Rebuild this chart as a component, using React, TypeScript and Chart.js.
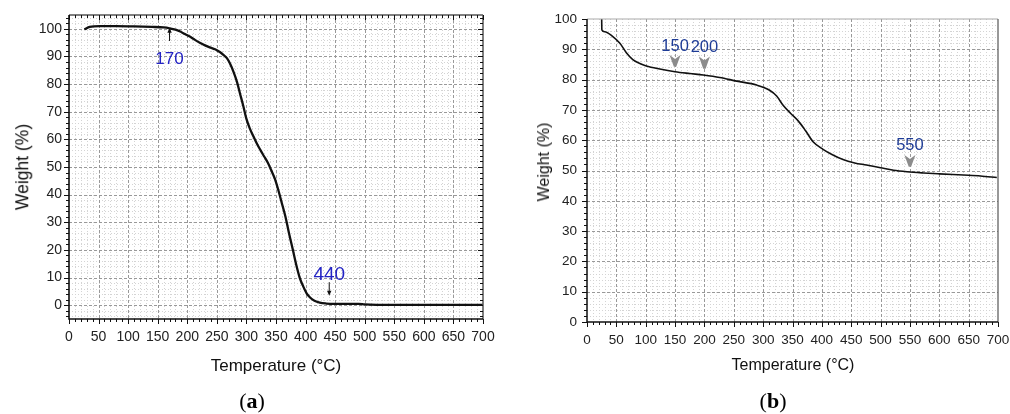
import React, { useEffect, useRef } from "react";
import { Chart, registerables } from "chart.js";

Chart.register(...registerables);

// ---------------- data: panel (a) ----------------
const tempsA = [26, 35, 52, 80, 110, 140, 160, 170, 180, 188, 196, 205, 213, 222, 230, 238, 247, 255, 261, 267, 272, 278, 284, 289, 295, 300, 306, 312, 318, 324, 330, 336, 342, 348, 354, 360, 366, 372, 378, 384, 390, 396, 402, 408, 415, 424, 435, 450, 470, 490, 500, 550, 600, 650, 700];
const weightsA = [99.8, 100.7, 101, 101, 100.9, 100.7, 100.5, 100.2, 99.7, 99.0, 98.1, 97.1, 96.0, 94.9, 94.0, 93.3, 92.6, 91.6, 90.6, 89.4, 87.5, 84.5, 80.8, 76.7, 71.8, 67.4, 63.8, 61.0, 58.3, 56.0, 53.8, 51.6, 48.8, 45.8, 41.6, 36.8, 32.0, 26.0, 20.5, 14.8, 10.0, 6.8, 4.2, 2.7, 1.6, 0.9, 0.6, 0.5, 0.5, 0.5, 0.3, 0.1, 0.1, 0.1, 0.1];
const markersA = [170, 440];
const markerLabelsA = ["170", "440"];

// ---------------- data: panel (b) ----------------
const tempsB = [25, 25.3, 30, 44, 56, 67, 78, 90, 101, 124, 150, 175, 198, 226, 255, 289, 311, 323, 334, 347, 360, 372, 385, 402, 418, 436, 456, 476, 500, 522, 545, 573, 600, 641, 670, 698];
const weightsB = [100, 96.4, 95.8, 94.2, 92, 88.9, 86.6, 85.3, 84.5, 83.5, 82.6, 82.0, 81.5, 80.7, 79.5, 78.2, 76.5, 74.6, 71.5, 68.8, 66.3, 63.2, 59.5, 57.0, 55.2, 53.6, 52.5, 51.8, 50.9, 50.1, 49.6, 49.2, 48.9, 48.5, 48.2, 47.7];
const markersB = [150, 200, 550];
const markerLabelsB = ["150", "200", "550"];

// ---------------- tick labels ----------------
const xTickLabels = ["0", "50", "100", "150", "200", "250", "300", "350", "400", "450", "500", "550", "600", "650", "700"];
const yTickLabelsA = ["0", "10", "20", "30", "40", "50", "60", "70", "80", "90", "100"];
const yTickLabelsB = ["0", "10", "20", "30", "40", "50", "60", "70", "80", "90", "100"];

const SANS = "'Liberation Sans', Arial, sans-serif";

type FrameCfg = {
  xMinor: number; xMajor: number; yMinor: number; yMajor: number;
  minorColor: string; majorColor: string; minorDash: number[]; majorDash: number[];
  axisColor: string; axisWidth: number;
  topColor: string; rightColor: string; frameWidth: number; innerTicks: boolean;
  majorLen: number; minorLen: number;
};

const stepValues = (min: number, max: number, step: number) => {
  const out: number[] = [];
  const start = Math.ceil(min / step - 1e-9) * step;
  for (let v = start; v <= max + 1e-9; v += step) out.push(Math.round(v * 1000) / 1000);
  return out;
};
const isMult = (v: number, step: number) => Math.abs(v / step - Math.round(v / step)) < 1e-6;

function framePlugin(id: string, cfg: FrameCfg) {
  return {
    id,
    beforeDatasetsDraw(chart: any) {
      const { ctx, chartArea: a } = chart;
      const x = chart.scales.x, y = chart.scales.y;
      ctx.save();
      ctx.lineWidth = 1;
      const drawSet = (major: boolean) => {
        ctx.strokeStyle = major ? cfg.majorColor : cfg.minorColor;
        ctx.setLineDash(major ? cfg.majorDash : cfg.minorDash);
        ctx.beginPath();
        for (const v of stepValues(x.min, x.max, cfg.xMinor)) {
          if (isMult(v, cfg.xMajor) !== major) continue;
          const p = Math.round(x.getPixelForValue(v)) + 0.5;
          if (p <= a.left + 1 || p >= a.right - 1) continue;
          ctx.moveTo(p, a.top); ctx.lineTo(p, a.bottom);
        }
        for (const v of stepValues(y.min, y.max, cfg.yMinor)) {
          if (isMult(v, cfg.yMajor) !== major) continue;
          const p = Math.round(y.getPixelForValue(v)) + 0.5;
          if (p <= a.top + 1 || p >= a.bottom - 1) continue;
          ctx.moveTo(a.left, p); ctx.lineTo(a.right, p);
        }
        ctx.stroke();
      };
      drawSet(false);
      drawSet(true);
      ctx.restore();
    },
    afterDatasetsDraw(chart: any) {
      const { ctx, chartArea: a } = chart;
      const x = chart.scales.x, y = chart.scales.y;
      ctx.save();
      ctx.setLineDash([]);
      ctx.lineWidth = cfg.frameWidth;
      ctx.strokeStyle = cfg.topColor;
      ctx.beginPath(); ctx.moveTo(a.left, a.top); ctx.lineTo(a.right, a.top); ctx.stroke();
      ctx.strokeStyle = cfg.rightColor;
      ctx.beginPath(); ctx.moveTo(a.right, a.top); ctx.lineTo(a.right, a.bottom); ctx.stroke();
      ctx.lineWidth = 1;
      ctx.strokeStyle = cfg.axisColor;
      ctx.beginPath();
      for (const v of stepValues(x.min, x.max, cfg.xMinor)) {
        const len = isMult(v, cfg.xMajor) ? cfg.majorLen : cfg.minorLen;
        const p = Math.round(x.getPixelForValue(v)) + 0.5;
        ctx.moveTo(p, a.bottom); ctx.lineTo(p, a.bottom + len);
        if (cfg.innerTicks) { ctx.moveTo(p, a.top); ctx.lineTo(p, a.top + len); }
      }
      for (const v of stepValues(y.min, y.max, cfg.yMinor)) {
        const len = isMult(v, cfg.yMajor) ? cfg.majorLen : cfg.minorLen;
        const p = Math.round(y.getPixelForValue(v)) + 0.5;
        ctx.moveTo(a.left, p); ctx.lineTo(a.left - len, p);
        if (cfg.innerTicks) { ctx.moveTo(a.right, p); ctx.lineTo(a.right - len, p); }
      }
      ctx.stroke();
      ctx.lineWidth = cfg.axisWidth;
      ctx.strokeStyle = cfg.axisColor;
      ctx.beginPath();
      ctx.moveTo(a.left, a.top); ctx.lineTo(a.left, a.bottom); ctx.lineTo(a.right, a.bottom);
      ctx.stroke();
      ctx.restore();
    },
  };
}

type Marker = { x: number; text: string; labelY: number; from: number; to: number; size: number };

function arrowPlugin(id: string, markers: Marker[], color: string) {
  return {
    id,
    afterDraw(chart: any) {
      const { ctx } = chart;
      const x = chart.scales.x, y = chart.scales.y;
      ctx.save();
      for (const m of markers) {
        const px = x.getPixelForValue(m.x);
        ctx.font = `${m.size}px ${SANS}`;
        ctx.fillStyle = color;
        ctx.textAlign = "center";
        ctx.textBaseline = "middle";
        ctx.fillText(m.text, px, y.getPixelForValue(m.labelY));
        const p1 = y.getPixelForValue(m.from);
        const p2 = y.getPixelForValue(m.to);
        const dir = p2 < p1 ? -1 : 1;
        ctx.strokeStyle = "#111";
        ctx.lineWidth = 1;
        ctx.beginPath();
        ctx.moveTo(px, p1); ctx.lineTo(px, p2 - dir * 4);
        ctx.stroke();
        ctx.fillStyle = "#111";
        ctx.beginPath();
        ctx.moveTo(px, p2); ctx.lineTo(px - 2.2, p2 - dir * 5); ctx.lineTo(px + 2.2, p2 - dir * 5);
        ctx.closePath(); ctx.fill();
      }
      ctx.restore();
    },
  };
}

function chevronPlugin(id: string, markers: Marker[], color: string) {
  return {
    id,
    afterDraw(chart: any) {
      const { ctx } = chart;
      const x = chart.scales.x, y = chart.scales.y;
      ctx.save();
      for (const m of markers) {
        const px = x.getPixelForValue(m.x);
        ctx.font = `${m.size}px ${SANS}`;
        ctx.fillStyle = color;
        ctx.textAlign = "center";
        ctx.textBaseline = "middle";
        ctx.fillText(m.text, px, y.getPixelForValue(m.labelY));
        const top = y.getPixelForValue(m.from);
        const bot = y.getPixelForValue(m.to);
        ctx.fillStyle = "#8c8c8c";
        ctx.beginPath();
        ctx.moveTo(px - 5.5, top);
        ctx.lineTo(px, top + 4);
        ctx.lineTo(px + 5.5, top);
        ctx.lineTo(px + 1.2, bot);
        ctx.lineTo(px - 1.2, bot);
        ctx.closePath();
        ctx.fill();
      }
      ctx.restore();
    },
  };
}

type PanelCfg = {
  temps: number[]; weights: number[]; yMin: number; yMax: number;
  yLabels: string[]; lineWidth: number; tickFont: number;
  yWidth: number; xHeight: number; padTop: number; padRight: number;
  xPad: number; yPad: number;
};

function buildConfig(p: PanelCfg, plugins: any[]) {
  const xVals = xTickLabels.map(Number);
  const yVals = p.yLabels.map(Number);
  return {
    type: "line",
    data: {
      datasets: [
        {
          data: p.temps.map((t, i) => ({ x: t, y: p.weights[i] })),
          borderColor: "#111",
          borderWidth: p.lineWidth,
          pointRadius: 0,
          fill: false,
          cubicInterpolationMode: "monotone",
        },
      ],
    },
    options: {
      animation: false,
      responsive: false,
      maintainAspectRatio: false,
      events: [],
      layout: { padding: { top: p.padTop, right: p.padRight, left: 0, bottom: 0 } },
      plugins: { legend: { display: false }, tooltip: { enabled: false }, title: { display: false } },
      scales: {
        x: {
          type: "linear",
          min: 0,
          max: 700,
          grid: { display: false, drawTicks: false },
          border: { display: false },
          afterFit: (s: any) => { s.height = p.xHeight; s.paddingLeft = 0; s.paddingRight = 0; },
          afterBuildTicks: (s: any) => { s.ticks = xVals.map((v) => ({ value: v })); },
          ticks: {
            autoSkip: false,
            maxRotation: 0,
            padding: p.xPad,
            color: "#222",
            font: { family: SANS, size: p.tickFont },
            callback: (v: number) => xTickLabels[xVals.indexOf(v)] ?? "",
          },
        },
        y: {
          type: "linear",
          min: p.yMin,
          max: p.yMax,
          grid: { display: false, drawTicks: false },
          border: { display: false },
          afterFit: (s: any) => { s.width = p.yWidth; s.paddingTop = 0; s.paddingBottom = 0; },
          afterBuildTicks: (s: any) => { s.ticks = yVals.map((v) => ({ value: v })); },
          ticks: {
            autoSkip: false,
            padding: p.yPad,
            color: "#222",
            font: { family: SANS, size: p.tickFont },
            callback: (v: number) => p.yLabels[yVals.indexOf(v)] ?? "",
          },
        },
      },
    },
    plugins,
  };
}

const textStyle = (left: number, top: number, size: number, rotate = false): React.CSSProperties => ({
  position: "absolute",
  left,
  top,
  fontFamily: SANS,
  fontSize: size,
  lineHeight: 1,
  color: "#111",
  whiteSpace: "nowrap",
  transform: rotate ? "translate(-50%, -50%) rotate(-90deg)" : "translate(-50%, -50%)",
});

const captionStyle = (left: number, top: number): React.CSSProperties => ({
  position: "absolute",
  left,
  top,
  fontFamily: "'Liberation Serif', 'Times New Roman', serif",
  fontSize: 22,
  lineHeight: 1,
  color: "#000",
  whiteSpace: "nowrap",
  transform: "translate(-50%, -50%)",
});

export default function App() {
  const refA = useRef<HTMLCanvasElement | null>(null);
  const refB = useRef<HTMLCanvasElement | null>(null);

  useEffect(() => {
    const markerLayoutA = [
      { labelY: 89, from: 95.6, to: 100.4, size: 17 },
      { labelY: 11, from: 8.3, to: 3.4, size: 19 },
    ];
    const mA: Marker[] = markersA.map((t, i) => ({ x: t, text: markerLabelsA[i], ...markerLayoutA[i] }));
    const markerLayoutB = [
      { labelY: 91.0, from: 88.1, to: 84.2, size: 16.5 },
      { labelY: 90.5, from: 87.6, to: 83.6, size: 16.5 },
      { labelY: 58.4, from: 55.1, to: 51.2, size: 16.5 },
    ];
    const mB: Marker[] = markersB.map((t, i) => ({ x: t, text: markerLabelsB[i], ...markerLayoutB[i] }));

    const cA = new Chart(
      refA.current as HTMLCanvasElement,
      buildConfig(
        {
          temps: tempsA, weights: weightsA, yMin: -5, yMax: 105, yLabels: yTickLabelsA,
          lineWidth: 2.3, tickFont: 14, yWidth: 69, xHeight: 95, padTop: 15, padRight: 22,
          xPad: 10, yPad: 7,
        },
        [
          framePlugin("frameA", {
            xMinor: 10, xMajor: 50, yMinor: 2, yMajor: 10,
            minorColor: "#d4d4d4", majorColor: "#999", minorDash: [1, 2], majorDash: [3, 2],
            axisColor: "#111", axisWidth: 1.6, topColor: "#555", rightColor: "#555", frameWidth: 1.5,
            innerTicks: true, majorLen: 5, minorLen: 3,
          }),
          arrowPlugin("arrowA", mA, "#2323c4"),
        ]
      ) as any
    );
    const cB = new Chart(
      refB.current as HTMLCanvasElement,
      buildConfig(
        {
          temps: tempsB, weights: weightsB, yMin: 0, yMax: 100, yLabels: yTickLabelsB,
          lineWidth: 1.6, tickFont: 13.5, yWidth: 82, xHeight: 92, padTop: 19, padRight: 12,
          xPad: 10.5, yPad: 10,
        },
        [
          framePlugin("frameB", {
            xMinor: 10, xMajor: 50, yMinor: 2, yMajor: 10,
            minorColor: "#d4d4d4", majorColor: "#999", minorDash: [1, 2], majorDash: [3, 2],
            axisColor: "#111", axisWidth: 1.5, topColor: "#aaa", rightColor: "#555", frameWidth: 1.2,
            innerTicks: false, majorLen: 5, minorLen: 3,
          }),
          chevronPlugin("chevB", mB, "#1e3c96"),
        ]
      ) as any
    );
    return () => {
      cA.destroy();
      cB.destroy();
    };
  }, []);

  return (
    <div style={{ position: "absolute", left: 0, top: 0, width: 1010, height: 414, overflow: "hidden", background: "#fff" }}>
      <canvas ref={refA} width={505} height={414} style={{ position: "absolute", left: 0, top: 0, width: 505, height: 414 }} />
      <canvas ref={refB} width={505} height={414} style={{ position: "absolute", left: 505, top: 0, width: 505, height: 414 }} />
      <div style={textStyle(23, 167, 17.5, true)}>Weight (%)</div>
      <div style={textStyle(276, 365, 17)}>Temperature (°C)</div>
      <div style={captionStyle(252, 401)}>(<b>a</b>)</div>
      <div style={textStyle(544, 162, 16, true)}>Weight (%)</div>
      <div style={textStyle(793, 365, 16)}>Temperature (°C)</div>
      <div style={captionStyle(773, 401)}>(<b>b</b>)</div>
    </div>
  );
}
